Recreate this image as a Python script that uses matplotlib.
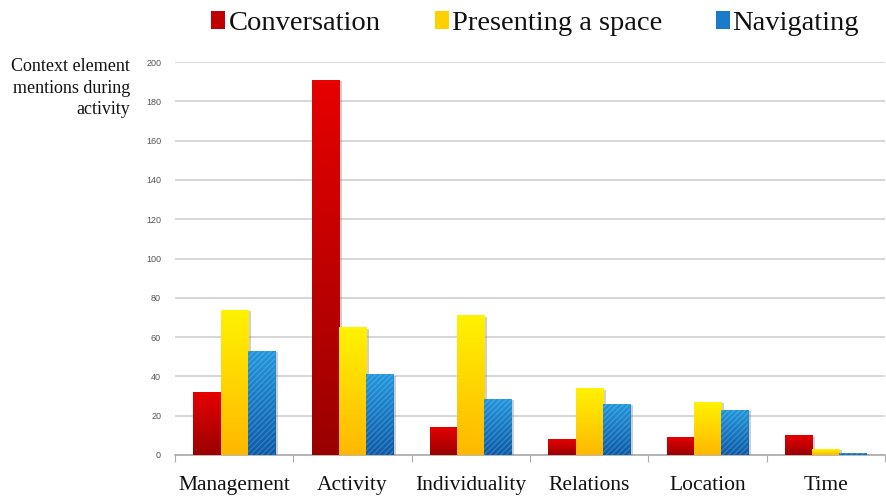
import matplotlib
matplotlib.use("Agg")
import matplotlib.pyplot as plt
import numpy as np
from matplotlib.colors import LinearSegmentedColormap
from matplotlib.patches import Rectangle
import matplotlib.patheffects as pe

categories = ["Management", "Activity", "Individuality", "Relations", "Location", "Time"]
series_names = ["Conversation", "Presenting a space", "Navigating"]
conversation = [32, 191, 14, 8, 9, 10]
presenting = [74, 65, 71, 34, 27, 3]
navigating = [53, 41, 28.5, 26, 23, 1]
yticks = [0, 20, 40, 60, 80, 100, 120, 140, 160, 180, 200]

grad_colors = [
    ("#9a0000", "#e60000"),
    ("#ffb800", "#fff200"),
    ("#0b5aa8", "#2196dc"),
]
legend_colors = ["#c00000", "#ffd000", "#1a7cc8"]

fig = plt.figure(figsize=(8.87, 5.01), dpi=100)
ax = fig.add_axes([175/887, 1-455/501, 710/887, (455-62)/501])
ax.set_xlim(0, 6)
ax.set_ylim(0, 200)

bw = 0.23
offsets = [-bw, 0, bw]
serif = "Liberation Serif"

for s, (vals, (c0, c1)) in enumerate(zip([conversation, presenting, navigating], grad_colors)):
    cmap = LinearSegmentedColormap.from_list("g%d" % s, [c0, c1])
    xs = np.arange(len(categories)) + 0.5 + offsets[s]
    bars = ax.bar(xs, vals, width=bw, color=c1, edgecolor="none", zorder=3,
                  path_effects=[pe.SimplePatchShadow(offset=(2, -1), shadow_rgbFace="#888888", alpha=0.4), pe.Normal()])
    for b in bars:
        x0 = b.get_x(); w = b.get_width(); h = b.get_height()
        grad = np.linspace(0, 1, 100).reshape(-1, 1)
        im = ax.imshow(grad, extent=[x0, x0 + w, 0, h], origin="lower", aspect="auto",
                       cmap=cmap, zorder=4)
        im.set_clip_path(b)
        if s == 2:
            hp = Rectangle((x0, 0), w, h, facecolor="none", edgecolor=(1, 1, 1, 0.18),
                           hatch="//////", linewidth=0, zorder=5)
            ax.add_patch(hp)

ax.set_yticks(yticks)
ax.set_yticklabels([str(t) for t in yticks], fontsize=6.5, color="#555555", family="Liberation Sans")
ax.yaxis.grid(True, color="#cfcfcf", linewidth=1.2, zorder=0)
ax.tick_params(axis="y", length=0, pad=10)
ax.set_xticks(np.arange(0, 7))
ax.set_xticklabels([])
ax.tick_params(axis="x", length=5, color="#aaaaaa", direction="out")
for i, c in enumerate(categories):
    ax.text(i + 0.5, -10.5, c, ha="center", va="top", fontsize=15.5, family=serif, color="#111111")

for sp in ["top", "right", "left"]:
    ax.spines[sp].set_visible(False)
ax.spines["bottom"].set_color("#aaaaaa")
ax.spines["bottom"].set_linewidth(1.2)

fig.text(130/887, 1-58/501, "Context element\nmentions during\nactivity", ha="right", va="top",
         fontsize=13, family=serif, linespacing=1.35, color="#111111")

# legend
leg_sq_x = [211, 435, 716]
leg_txt_x = [229, 452, 732]
for name, col, sx, tx in zip(series_names, legend_colors, leg_sq_x, leg_txt_x):
    fig.patches.append(Rectangle((sx/887, 1-29/501), 14/887, 18/501, transform=fig.transFigure,
                                 facecolor=col, edgecolor="none"))
    fig.text(tx/887, 1-23/501, name, ha="left", va="center", fontsize=20.5, family=serif, color="#111111")

fig.savefig("out.png", dpi=100)
